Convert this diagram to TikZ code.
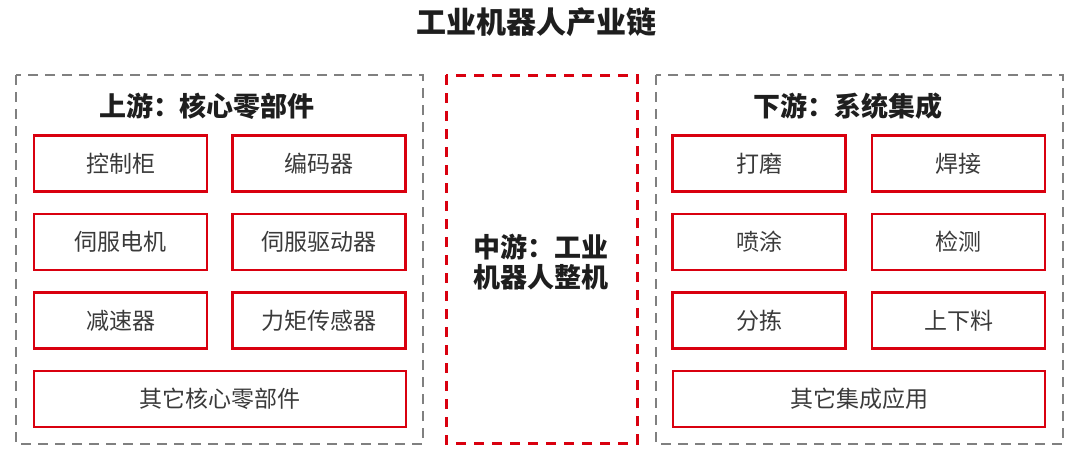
\documentclass[tikz,border=0pt]{standalone}
\usepackage{fontspec}
\setmainfont{Noto Sans CJK SC}
\definecolor{boxred}{HTML}{D9000F}
\definecolor{dashgray}{HTML}{808080}
\definecolor{txtgray}{HTML}{3A3A3A}
\definecolor{headc}{HTML}{1E1E1E}
\begin{document}
\begin{tikzpicture}[x=1pt,y=-1pt,
  item/.style={draw=boxred,line width=2.6pt,minimum height=56pt,inner sep=0pt,
    font=\fontsize{23}{26}\selectfont,text=txtgray},
  halfbox/.style={item,minimum width=173pt},
  fullbox/.style={item,minimum width=372pt},
  grayframe/.style={draw=dashgray,line width=2.6pt,dash pattern=on 10pt off 7pt},
  redframe/.style={draw=boxred,line width=3pt,dash pattern=on 10pt off 8pt},
  heading/.style={font=\fontsize{27}{30}\selectfont\bfseries,text=headc}]
\useasboundingbox (0,0) rectangle (1080,459);
\node[font=\fontsize{30}{33}\selectfont\bfseries,text=headc] (title) at (536,22) {工业机器人产业链};
% frames
\draw[grayframe] (16,75) rectangle (423,444);
\draw[redframe] (446,75) rectangle (637,443);
\draw[grayframe] (656,75) rectangle (1063,444);
% headings
\node[heading] (hl) at (207,106) {上游：核心零部件};
\node[heading] (hr) at (848,106) {下游：系统集成};
\node[font=\fontsize{27}{30}\selectfont\bfseries,text=headc,align=center] (mid) at (541,262) {中游：工业\\机器人整机};
% left
\node[halfbox] (l11) at (120.5,163.5) {控制柜};
\node[halfbox] (l12) at (319,163.5) {编码器};
\node[halfbox] (l21) at (120.5,242) {伺服电机};
\node[halfbox] (l22) at (319,242) {伺服驱动器};
\node[halfbox] (l31) at (120.5,320.5) {减速器};
\node[halfbox] (l32) at (319,320.5) {力矩传感器};
\node[fullbox] (l4) at (220,399) {其它核心零部件};
% right
\node[halfbox] (r11) at (759,163.5) {打磨};
\node[halfbox] (r12) at (958.5,163.5) {焊接};
\node[halfbox] (r21) at (759,242) {喷涂};
\node[halfbox] (r22) at (958.5,242) {检测};
\node[halfbox] (r31) at (759,320.5) {分拣};
\node[halfbox] (r32) at (958.5,320.5) {上下料};
\node[fullbox] (r4) at (859,399) {其它集成应用};
\end{tikzpicture}
\end{document}
